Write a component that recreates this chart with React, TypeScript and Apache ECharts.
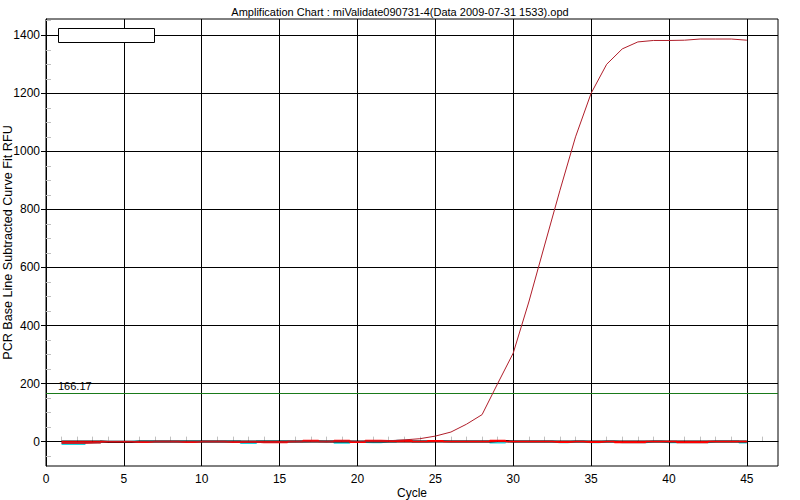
import React, { useEffect, useRef } from "react";
import * as echarts from "echarts";

const titleText = "Amplification Chart : miValidate090731-4(Data 2009-07-31 1533).opd";
const xName = "Cycle";
const yName = "PCR Base Line Subtracted Curve Fit RFU";
const thresholdValue = 166.17;

const cycles = [1, 2, 3, 4, 5, 6, 7, 8, 9, 10, 11, 12, 13, 14, 15, 16, 17, 18, 19, 20, 21, 22, 23, 24, 25, 26, 27, 28, 29, 30, 31, 32, 33, 34, 35, 36, 37, 38, 39, 40, 41, 42, 43, 44, 45];

const amplification = [-5, -5, -4, -1, -1, -1, 0, 0, -1, 0, 0, -1, -1, -2, -2, 0, 2, 0, 3, 0, 2, 3, 6, 10, 19, 33, 60, 93, 200, 305, 481, 674, 866, 1050, 1200, 1300, 1353, 1377, 1382, 1382, 1383, 1387, 1387, 1387, 1383];
const redWell = [-5, -5, -4, 0, 0, -2, 0, 0, -2, 0, 0, -2, -1, -3, -3, 0, 4, 0, 4, -2, 4, 3, 4, 0, 3, 0, 0, 0, 4, 0, 0, 0, -2, 0, -2, 0, -3, -3, 0, 0, -3, -3, 0, 0, 0];
const cyanWell = [-8, -8, -3, 0, 0, 0, 0, 0, 0, 0, 0, 0, -5, 0, 0, 0, 1, 0, -4, -1, -2, 0, 3, 0, 2, 0, 0, 0, -3, 0, 0, 0, -2, 0, -2, 0, -2, -2, 0, -2, -2, -2, 0, 0, -3];
const blackWell = [0, 0, 0, -1, -1, 0, 0, 0, 0, 0, 0, 0, 0, 0, 0, 0, 0, 0, 0, 0, 0, 0, 0, 0, 0, 0, 0, 0, 2, 0, 0, 0, 0, 0, 0, 0, 0, 0, 0, 0, 0, 0, 0, 0, 0];
const flatWell = [0, 0, 0, 0, 0, 0, 0, 0, 0, 0, 0, 0, 0, 0, 0, 0, 0, 0, 0, 0, 0, 0, 0, 0, 0, 0, 0, 0, 0, 0, 0, 0, 0, 0, 0, 0, 0, 0, 0, 0, 0, 0, 0, 0, 0];

const xMajorTicks = [0, 5, 10, 15, 20, 25, 30, 35, 40, 45];
const xMinorTicks = [1, 2, 3, 4, 6, 7, 8, 9, 11, 12, 13, 14, 16, 17, 18, 19, 21, 22, 23, 24, 26, 27, 28, 29, 31, 32, 33, 34, 36, 37, 38, 39, 41, 42, 43, 44, 46];
const yMajorTicks = [0, 200, 400, 600, 800, 1000, 1200, 1400];
const yMinorTicks = [-50, 50, 100, 150, 250, 300, 350, 450, 500, 550, 650, 700, 750, 850, 900, 950, 1050, 1100, 1150, 1250, 1300, 1350, 1450];

const FONT = "Liberation Sans";

export default function App() {
  const ref = useRef<HTMLDivElement>(null);
  useEffect(() => {
    if (!ref.current) return;
    const chart = echarts.init(ref.current, undefined, { renderer: "svg" });
    const pair = (arr: number[]) => cycles.map((c, i) => [c, arr[i]]);
    const gridLines: any[] = [
      ...yMajorTicks.map((v) => ({ yAxis: v })),
      ...xMajorTicks.filter((v) => v > 0).map((v) => ({ xAxis: v })),
    ];
    chart.setOption({
      animation: false,
      backgroundColor: "#ffffff",
      title: {
        text: titleText,
        left: "center",
        top: 1,
        textStyle: { fontFamily: FONT, fontSize: 11, fontWeight: "normal", color: "#000" },
      },
      grid: {
        left: 46,
        top: 19,
        width: 732,
        height: 447,
        show: true,
        borderColor: "#000",
        borderWidth: 1,
        backgroundColor: "#fff",
        containLabel: false,
        outerBoundsMode: "none",
      },
      xAxis: [
        {
          type: "value",
          min: 0,
          max: 47,
          position: "bottom",
          name: xName,
          nameLocation: "middle",
          nameGap: 21,
          nameMoveOverlap: false,
          nameTextStyle: { fontFamily: FONT, fontSize: 12, color: "#000" },
          axisLine: { show: true, lineStyle: { color: "#000", width: 1 } },
          axisTick: { show: true, customValues: xMajorTicks, length: 5, lineStyle: { color: "#000" } },
          axisLabel: { customValues: xMajorTicks, color: "#000", fontFamily: FONT, fontSize: 12, margin: 7, formatter: (v: number) => String(v) },
          splitLine: { show: false },
        },
        {
          type: "value",
          min: 0,
          max: 47,
          position: "bottom",
          axisLine: { show: false },
          axisTick: { show: true, inside: true, customValues: xMinorTicks, length: 5, lineStyle: { color: "#c0c0c0" } },
          axisLabel: { show: false },
          splitLine: { show: false },
        },
      ],
      yAxis: [
        {
          type: "value",
          min: -84,
          max: 1456,
          position: "left",
          name: yName,
          nameLocation: "middle",
          nameGap: 32,
          nameMoveOverlap: false,
          nameTextStyle: { fontFamily: FONT, fontSize: 12.6, color: "#000" },
          axisLine: { show: true, lineStyle: { color: "#000", width: 1 } },
          axisTick: { show: true, customValues: yMajorTicks, length: 5, lineStyle: { color: "#000" } },
          axisLabel: { customValues: yMajorTicks, color: "#000", fontFamily: FONT, fontSize: 12, margin: 6, formatter: (v: number) => String(v) },
          splitLine: { show: false },
        },
        {
          type: "value",
          min: -84,
          max: 1456,
          position: "left",
          axisLine: { show: false },
          axisTick: { show: true, inside: true, customValues: yMinorTicks, length: 5, lineStyle: { color: "#c0c0c0" } },
          axisLabel: { show: false },
          splitLine: { show: false },
        },
      ],
      series: [
        {
          type: "line",
          name: "grid",
          data: [],
          z: 1,
          silent: true,
          markLine: {
            silent: true,
            symbol: ["none", "none"],
            animation: false,
            label: { show: false },
            lineStyle: { color: "#000", width: 1, type: "solid" },
            data: gridLines,
          },
        },
        {
          type: "line",
          name: "threshold",
          data: [],
          z: 2,
          silent: true,
          markLine: {
            silent: true,
            symbol: ["none", "none"],
            animation: false,
            lineStyle: { color: "#1a7a1a", width: 1, type: "solid" },
            label: {
              show: true,
              position: "insideStartTop",
              formatter: String(thresholdValue),
              fontFamily: FONT,
              fontSize: 11,
              color: "#000",
              distance: [12, 2],
            },
            data: [{ yAxis: thresholdValue }],
          },
        },
        {
          type: "line",
          name: "cyan",
          data: pair(cyanWell),
          step: "middle",
          showSymbol: false,
          z: 3,
          lineStyle: { color: "#1ed6e0", width: 2 },
        },
        {
          type: "line",
          name: "black",
          data: pair(blackWell),
          step: "middle",
          showSymbol: false,
          z: 4,
          lineStyle: { color: "#000", width: 2 },
        },
        {
          type: "line",
          name: "red",
          data: pair(redWell),
          step: "middle",
          showSymbol: false,
          z: 5,
          lineStyle: { color: "#ff0000", width: 1.5 },
        },
        {
          type: "line",
          name: "flat",
          data: pair(flatWell),
          showSymbol: false,
          z: 6,
          lineStyle: { color: "#ff0000", width: 1 },
        },
        {
          type: "line",
          name: "amp",
          data: pair(amplification),
          showSymbol: false,
          z: 7,
          lineStyle: { color: "#b01e2a", width: 1 },
        },
      ],
      graphic: [
        {
          type: "rect",
          shape: { x: 58.5, y: 28.5, width: 96, height: 14 },
          style: { fill: "#fff", stroke: "#000", lineWidth: 1 },
          z: 100,
        },
      ],
    });
    return () => chart.dispose();
  }, []);
  return <div ref={ref} style={{ width: 800, height: 500, position: "absolute", left: 0, top: 0 }} />;
}
